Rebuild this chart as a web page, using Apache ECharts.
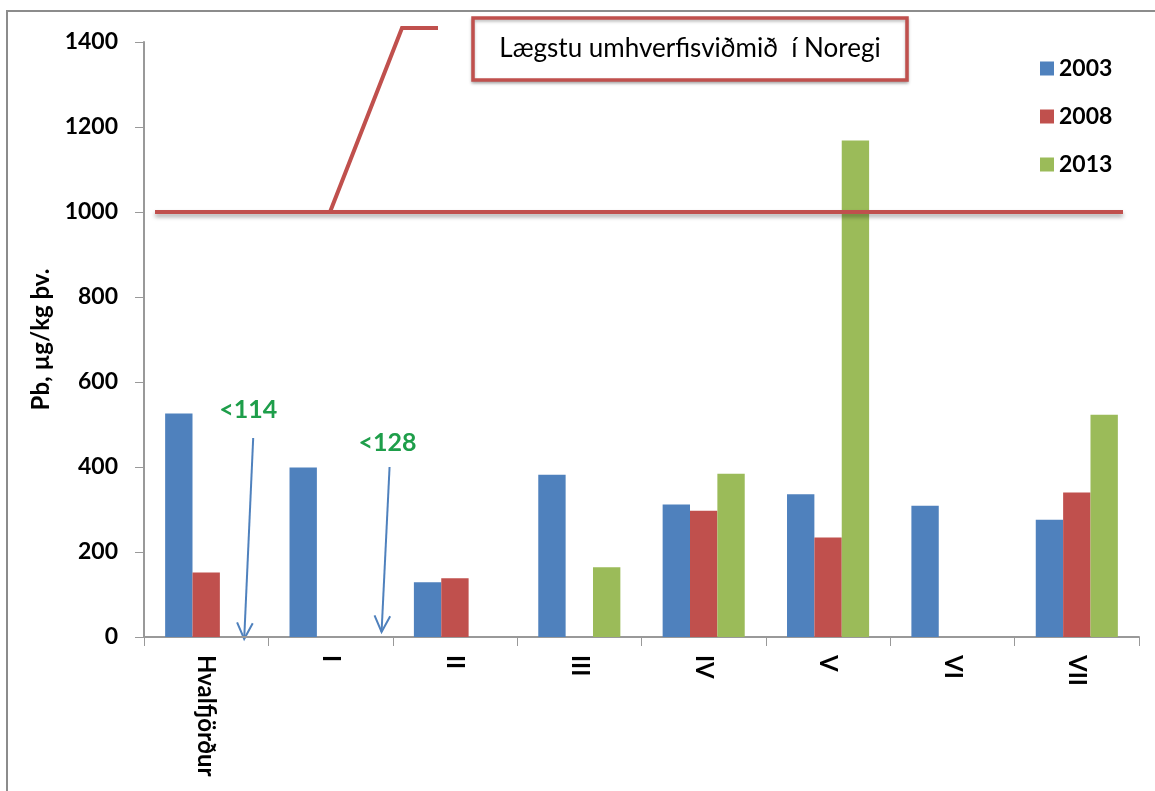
<!DOCTYPE html>
<html>
<head>
<meta charset="utf-8">
<script src="https://cdn.jsdelivr.net/npm/echarts@6/dist/echarts.min.js"></script>
<style>
  html, body { margin: 0; padding: 0; background: #fff; }
  #chart { width: 1155px; height: 791px; }
</style>
</head>
<body>
<div id="chart"></div>
<script>
var categories = ['Hvalfjörður', 'I', 'II', 'III', 'IV', 'V', 'VI', 'VII'];
var years = ['2003', '2008', '2013'];
var values2003 = [526, 399, 129, 382, 312, 336, 309, 276];
var values2008 = [152, null, 138, null, 297, 234, null, 340];
var values2013 = [null, null, null, 164, 384, 1168, null, 523];
var limitValue = 1000;
var limitText = 'Lægstu umhverfisviðmið  í Noregi';
// 2013 values below detection limit, shown as arrows
var belowLimit = [
    { index: 0, text: '<114' },
    { index: 1, text: '<128' }
];

var colors = ['#4F81BD', '#C0504D', '#9BBB59'];
var font = 'Lato, "Liberation Sans", sans-serif';

var myChart = echarts.init(document.getElementById('chart'));

function barSeries(name, data, idx) {
    return {
        name: name,
        type: 'bar',
        data: data,
        barGap: '0%',
        barCategoryGap: '34%',
        itemStyle: { color: colors[idx] }
    };
}

var series = [
    barSeries(years[0], values2003, 0),
    barSeries(years[1], values2008, 1),
    barSeries(years[2], values2013, 2)
];

// threshold line (drawn over the bars)
series[2].markLine = {
    silent: true,
    symbol: ['none', 'none'],
    label: { show: false },
    lineStyle: {
        color: '#C0504D',
        width: 4,
        type: 'solid',
        shadowColor: 'rgba(0,0,0,0.35)',
        shadowBlur: 4,
        shadowOffsetY: 3
    },
    data: [[{ yAxis: limitValue, x: 155 }, { yAxis: limitValue, x: 1123 }]]
};

var option = {
    animation: false,
    backgroundColor: '#fff',
    grid: {
        left: 144,
        right: 16,
        top: 42,
        bottom: 154
    },
    legend: {
        data: years,
        orient: 'vertical',
        left: 1035,
        top: 52,
        itemWidth: 14,
        itemHeight: 14,
        itemGap: 25,
        icon: 'rect',
        textStyle: {
            fontFamily: font,
            fontWeight: 'bold',
            fontSize: 23,
            color: '#000'
        }
    },
    xAxis: [{
        type: 'category',
        data: categories,
        axisLine: { lineStyle: { color: '#999', width: 2 } },
        axisTick: { show: true, length: 9, lineStyle: { color: '#999', width: 1 } },
        axisLabel: {
            rotate: -90,
            margin: 18,
            fontFamily: font,
            fontWeight: 'bold',
            fontSize: 24,
            color: '#000'
        }
    }],
    yAxis: [{
        type: 'value',
        min: 0,
        max: 1400,
        interval: 200,
        name: 'Pb, µg/kg þv.',
        nameLocation: 'middle',
        nameGap: 88,
        nameTextStyle: {
            fontFamily: font,
            fontWeight: 'bold',
            fontSize: 24,
            color: '#000'
        },
        splitLine: { show: false },
        axisLine: { show: true, lineStyle: { color: '#999', width: 2 } },
        axisTick: { show: true, length: 9, lineStyle: { color: '#999', width: 1 } },
        axisLabel: {
            margin: 26,
            fontFamily: font,
            fontWeight: 'bold',
            fontSize: 23,
            color: '#000',
            formatter: function(v) { return String(v); }
        }
    }],
    series: series
};

myChart.setOption(option);

// annotations placed from the chart's own scales
var yLimit = myChart.convertToPixel({ yAxisIndex: 0 }, limitValue);
var yTop = myChart.convertToPixel({ yAxisIndex: 0 }, 1400);
var c0 = myChart.convertToPixel({ xAxisIndex: 0 }, 0);
var catW = myChart.convertToPixel({ xAxisIndex: 0 }, 1) - c0;
var xLeft = c0 - catW / 2;

var graphics = [
    // outer frame of the chart area
    {
        type: 'rect',
        shape: { x: 7, y: 11, width: 1200, height: 820 },
        style: { fill: null, stroke: '#8c8c8c', lineWidth: 2 },
        silent: true
    },
    // leader line to the text box
    {
        type: 'polyline',
        shape: { points: [[xLeft + 186, yLimit], [xLeft + 258, yTop - 14], [xLeft + 294, yTop - 14]] },
        style: { stroke: '#C0504D', lineWidth: 4, fill: null },
        silent: true
    },
    {
        type: 'rect',
        shape: { x: 473, y: 18, width: 434, height: 62 },
        style: {
            fill: '#fff',
            stroke: '#C0504D',
            lineWidth: 3.5,
            shadowColor: 'rgba(0,0,0,0.25)',
            shadowBlur: 3,
            shadowOffsetY: 2
        },
        silent: true
    },
    {
        type: 'text',
        x: 690,
        y: 49,
        style: {
            text: limitText,
            fontFamily: font,
            fontSize: 26,
            fill: '#000',
            align: 'center',
            verticalAlign: 'middle'
        },
        silent: true
    }
];

var arrowSpec = [
    { dxStart: 47, yStart: 438, dxTip: 38, yTip: 639, labelDx: 42, labelY: 410 },
    { dxStart: 59, yStart: 467, dxTip: 51, yTip: 632, labelDx: 57, labelY: 443 }
];

belowLimit.forEach(function(b, i) {
    var cx = myChart.convertToPixel({ xAxisIndex: 0 }, b.index);
    var s = arrowSpec[i];
    var sx = cx + s.dxStart, sy = s.yStart, tx = cx + s.dxTip, ty = s.yTip;
    var ang = Math.atan2(ty - sy, tx - sx);
    var hl = 18, ha = 0.45;
    graphics.push({
        type: 'line',
        shape: { x1: sx, y1: sy, x2: tx, y2: ty },
        style: { stroke: '#4F81BD', lineWidth: 2 },
        silent: true
    });
    graphics.push({
        type: 'polyline',
        shape: { points: [
            [tx - hl * Math.cos(ang - ha), ty - hl * Math.sin(ang - ha)],
            [tx, ty],
            [tx - hl * Math.cos(ang + ha), ty - hl * Math.sin(ang + ha)]
        ] },
        style: { stroke: '#4F81BD', lineWidth: 2, fill: null },
        silent: true
    });
    graphics.push({
        type: 'text',
        x: cx + s.labelDx,
        y: s.labelY,
        style: {
            text: b.text,
            fontFamily: font,
            fontWeight: 'bold',
            fontSize: 25,
            fill: '#1E9E4A',
            align: 'center',
            verticalAlign: 'middle'
        },
        silent: true
    });
});

myChart.setOption({ graphic: graphics });
</script>
</body>
</html>
